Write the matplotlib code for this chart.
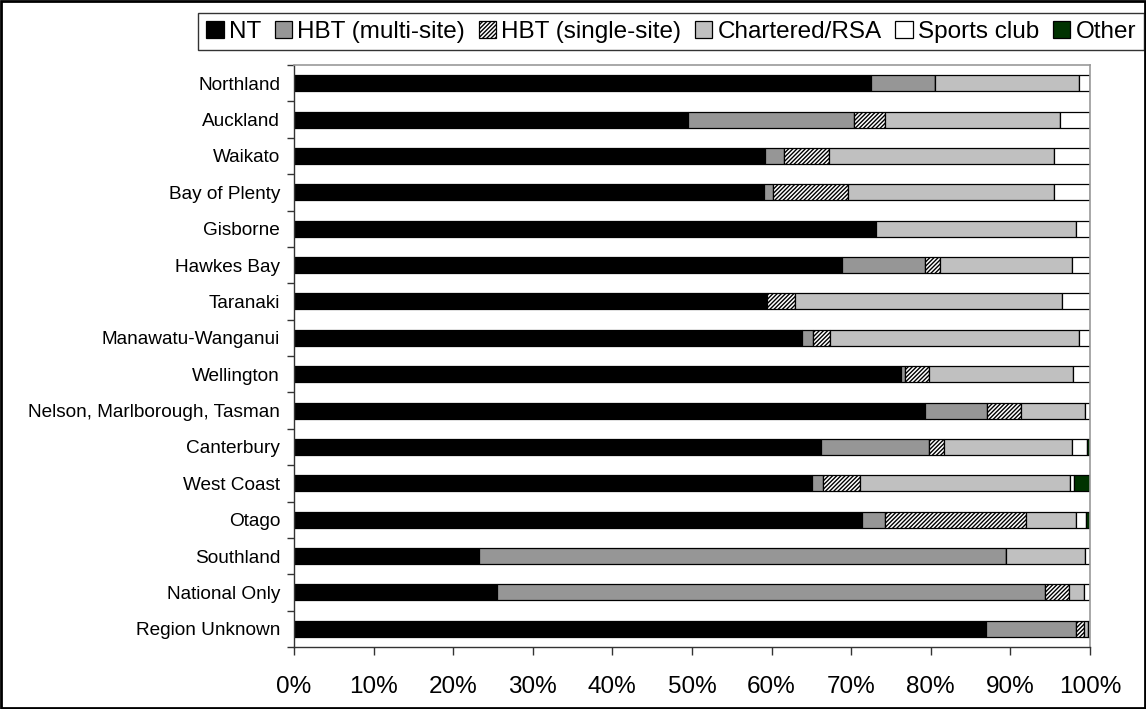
import numpy as np
import matplotlib.pyplot as plt
from matplotlib.ticker import FuncFormatter

plt.rcParams['font.family'] = ['Liberation Sans', 'DejaVu Sans']
plt.rcParams['hatch.linewidth'] = 1.0

# venue share by region, percent of each row
regions = ["Northland", "Auckland", "Waikato", "Bay of Plenty", "Gisborne", "Hawkes Bay",
           "Taranaki", "Manawatu-Wanganui", "Wellington", "Nelson, Marlborough, Tasman",
           "Canterbury", "West Coast", "Otago", "Southland", "National Only", "Region Unknown"]

nt =         [72.5, 49.5, 59.2, 59.0, 73.1, 68.9, 59.4, 63.8, 76.3, 79.3, 66.2, 65.1, 71.4, 23.2, 25.5, 86.9]
hbt_multi =  [8.0, 20.8, 2.4, 1.2, 0.0, 10.4, 0.0, 1.4, 0.5, 7.8, 13.6, 1.4, 2.8, 66.2, 68.9, 11.4]
hbt_single = [0.0, 4.0, 5.6, 9.4, 0.0, 1.8, 3.6, 2.1, 3.0, 4.2, 1.9, 4.6, 17.8, 0.0, 3.0, 0.9]
chartered =  [18.1, 21.9, 28.3, 25.9, 25.1, 16.6, 33.5, 31.3, 18.1, 8.1, 16.0, 26.4, 6.2, 10.0, 1.9, 0.5]
sports =     [1.4, 3.8, 4.5, 4.5, 1.8, 2.3, 3.5, 1.4, 2.1, 0.6, 1.9, 0.5, 1.3, 0.6, 0.7, 0.3]
other =      [0.0, 0.0, 0.0, 0.0, 0.0, 0.0, 0.0, 0.0, 0.0, 0.0, 0.4, 2.0, 0.5, 0.0, 0.0, 0.0]

series = [
    ("NT", nt, "black", None),
    ("HBT (multi-site)", hbt_multi, "#969696", None),
    ("HBT (single-site)", hbt_single, "white", "////////"),
    ("Chartered/RSA", chartered, "#c0c0c0", None),
    ("Sports club", sports, "white", None),
    ("Other", other, "#003300", None),
]

fig = plt.figure(figsize=(11.46, 7.09), dpi=100)
ax = fig.add_axes([0.2565, 0.0874, 0.6946, 0.8209])

y = np.arange(len(regions))
left = np.zeros(len(regions))
handles = []
for name, vals, col, hatch in series:
    vals = np.array(vals)
    b = ax.barh(y, vals, left=left, height=0.44, color=col, hatch=hatch,
                edgecolor="black", linewidth=0.9, label=name)
    handles.append(b)
    left += vals

ax.set_xlim(0, 100)
ax.set_ylim(len(regions) - 0.5, -0.5)
ax.set_xticks(np.arange(0, 101, 10))
ax.xaxis.set_major_formatter(FuncFormatter(lambda v, p: "%d%%" % v))
ax.tick_params(axis="x", labelsize=17.5, length=6, width=1, direction="out", pad=15, color="#333333")

# category ticks sit between rows, names in the middle
ax.set_yticks(np.arange(len(regions) + 1) - 0.5)
ax.set_yticklabels([])
ax.set_yticks(y, minor=True)
ax.set_yticklabels(regions, minor=True)
ax.tick_params(axis="y", which="major", length=5, width=1, direction="out", color="#333333")
ax.tick_params(axis="y", which="minor", length=0, labelsize=13.7, pad=10)

for s in ["top", "right"]:
    ax.spines[s].set_color("#999999")
    ax.spines[s].set_linewidth(1.2)
for s in ["left", "bottom"]:
    ax.spines[s].set_color("#333333")
    ax.spines[s].set_linewidth(1.0)

leg = fig.legend(handles=handles, loc="upper right", bbox_to_anchor=(0.998, 0.982), ncol=6,
                 fontsize=17.5, frameon=True, fancybox=False, edgecolor="black",
                 handlelength=0.72, handleheight=0.72, handletextpad=0.22,
                 columnspacing=0.55, borderpad=0.32, borderaxespad=0)
leg.get_frame().set_linewidth(1.0)

# outer chart border
fig.patches.append(plt.Rectangle((0.001, 0.001), 0.998, 0.997, transform=fig.transFigure,
                                 fill=False, edgecolor="black", linewidth=2))

fig.savefig("out.png", dpi=100)
